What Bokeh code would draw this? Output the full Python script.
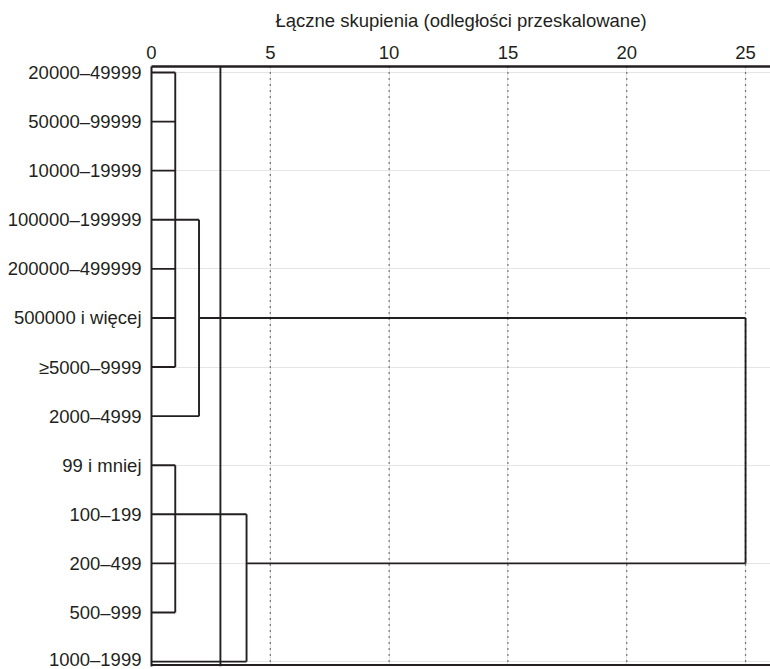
import math
from bokeh.plotting import figure
from bokeh.models import Range1d, LinearAxis, FixedTicker, ColumnDataSource, Span
from bokeh.embed import file_html
from bokeh.resources import INLINE

# ---- data ----
labels = [
    "20000–49999", "50000–99999", "10000–19999", "100000–199999",
    "200000–499999", "500000 i więcej", "≥5000–9999", "2000–4999",
    "99 i mniej", "100–199", "200–499", "500–999", "1000–1999",
]
# merges: children (leaf index 0..12, new nodes numbered from 13) and rescaled distance
merge_children = [[0, 1, 2, 3, 4, 5, 6], [8, 9, 10, 11], [13, 7], [14, 12], [15, 16]]
merge_heights = [1.0, 1.0, 2.0, 4.0, 25.0]
cut_height = 2.9
x_ticks = [0, 5, 10, 15, 20, 25]
grid_ticks = [5, 10, 15, 20, 25]
axis_title = "Łączne skupienia (odległości przeskalowane)"

# ---- dendrogram layout ----
n = len(labels)
node_y = [float(i) for i in range(n)]
node_x = [0.0] * n
x0, x1, y0, y1 = [], [], [], []
for ch, h in zip(merge_children, merge_heights):
    ys = [node_y[c] for c in ch]
    for c in ch:
        x0.append(node_x[c]); x1.append(h); y0.append(node_y[c]); y1.append(node_y[c])
    x0.append(h); x1.append(h); y0.append(min(ys)); y1.append(max(ys))
    node_y.append(float(math.floor(sum(ys) / len(ys))))
    node_x.append(h)

src = ColumnDataSource(dict(x0=x0, x1=x1, y0=y0, y1=y1))

FONT = "Liberation Sans"
INK = "#231f20"

p = figure(width=770, height=669,
           x_range=Range1d(0, 26.05), y_range=Range1d(12.1, -0.122),
           output_backend="svg", toolbar_location=None,
           x_axis_location=None, y_axis_location=None,
           min_border_left=151, min_border_right=0,
           min_border_top=66, min_border_bottom=3)
p.outline_line_color = None
p.background_fill_color = "white"
p.border_fill_color = "white"

for t in grid_ticks:
    p.add_layout(Span(location=t, dimension="height", line_color="#111111",
                      line_width=1.3, line_dash="1 5"))

p.add_layout(Span(location=cut_height, dimension="height", line_color=INK, line_width=1.9))

p.segment(x0="x0", y0="y0", x1="x1", y1="y1", source=src, line_color=INK, line_width=1.9)

# bottom frame line
p.add_layout(Span(location=12.07, dimension="width", line_color=INK, line_width=2))

top = LinearAxis(ticker=FixedTicker(ticks=x_ticks), axis_label=axis_title)
top.axis_line_width = 2.5
top.axis_line_color = INK
top.major_tick_line_color = None
top.minor_tick_line_color = None
top.major_tick_out = 0
top.major_tick_in = 0
top.major_label_text_font = FONT
top.major_label_text_font_size = "18.5px"
top.major_label_text_color = INK
top.major_label_standoff = 8
top.axis_label_text_font = FONT
top.axis_label_text_font_size = "18.5px"
top.axis_label_text_font_style = "normal"
top.axis_label_text_color = INK
top.axis_label_standoff = 12
p.add_layout(top, "above")

left = LinearAxis(ticker=FixedTicker(ticks=list(range(n))),
                  major_label_overrides={i: lab for i, lab in enumerate(labels)})
left.axis_line_width = 2
left.axis_line_color = INK
left.major_tick_line_color = None
left.minor_tick_line_color = None
left.major_tick_out = 0
left.major_tick_in = 0
left.major_label_text_font = FONT
left.major_label_text_font_size = "18.5px"
left.major_label_text_color = INK
left.major_label_standoff = 10
p.add_layout(left, "left")

open("out.html", "w").write(file_html(p, INLINE))
